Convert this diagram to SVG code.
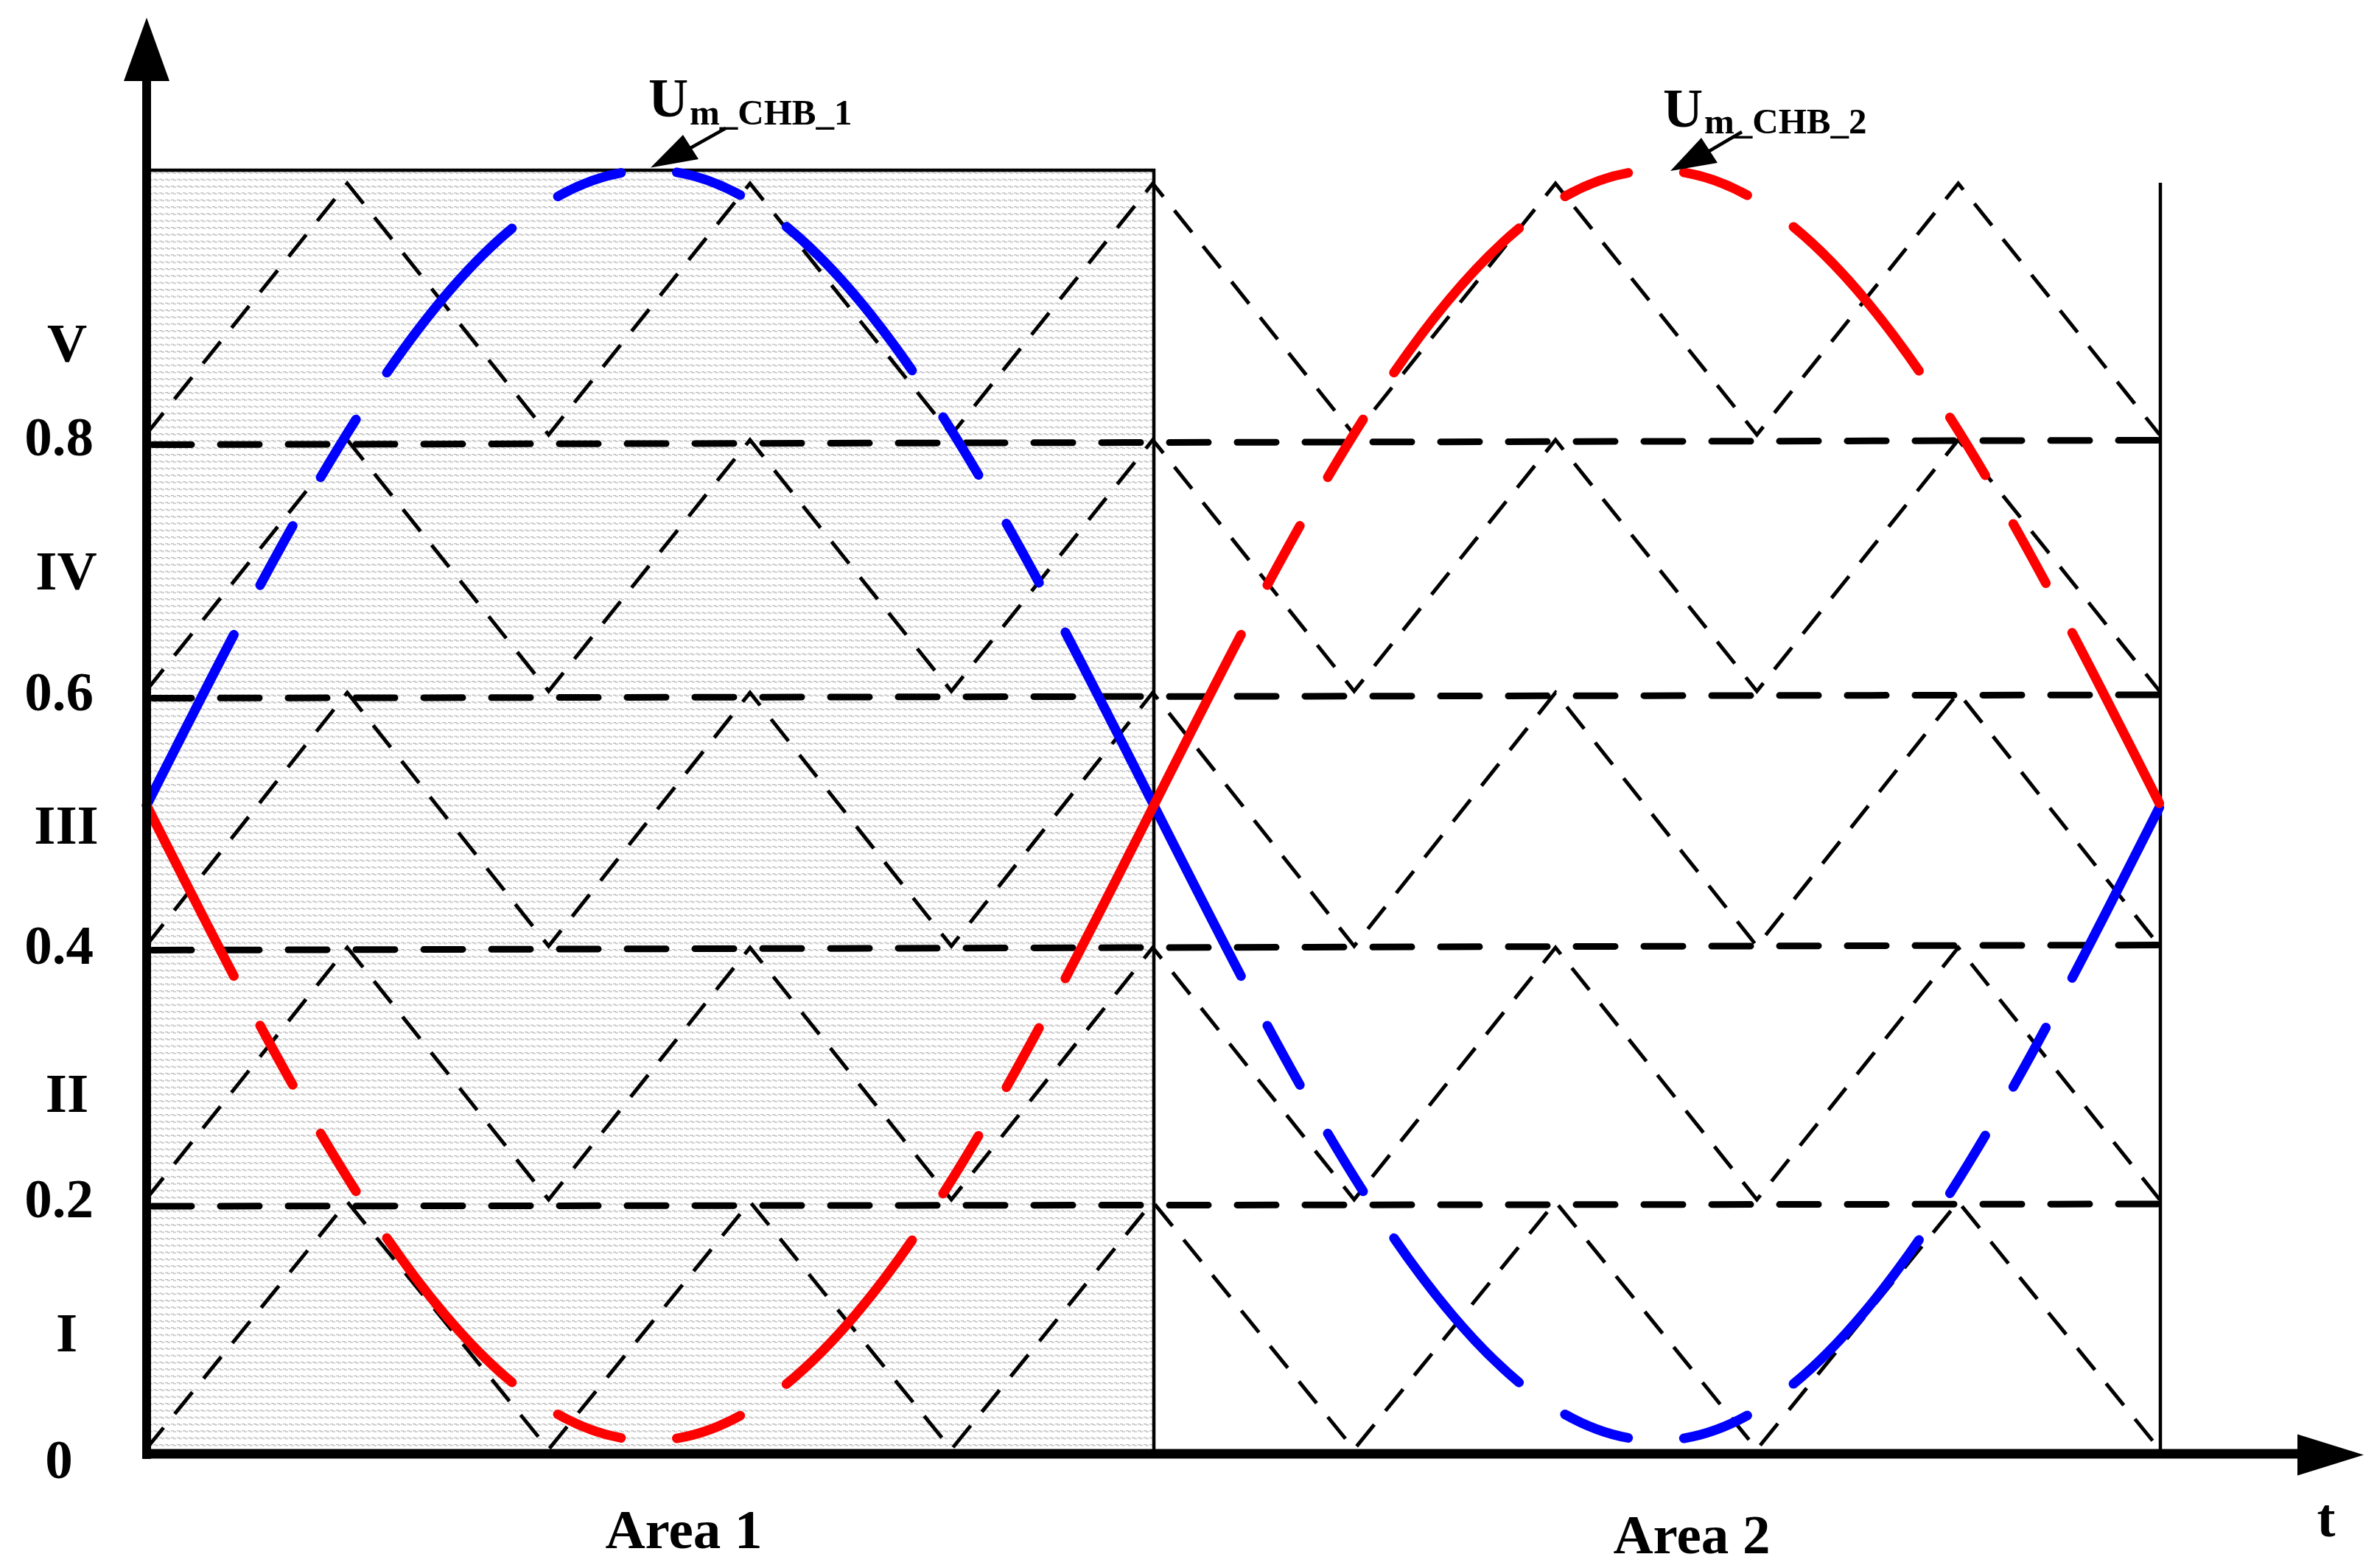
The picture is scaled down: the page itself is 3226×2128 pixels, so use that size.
<svg xmlns="http://www.w3.org/2000/svg" width="3226" height="2128" viewBox="0 0 3226 2128">
<style>
.lbl{font-family:"Liberation Serif","Times New Roman",serif;font-weight:bold;fill:#000}
.carrier{fill:none;stroke:#000;stroke-width:5;stroke-dasharray:38 24}
.level{fill:none;stroke:#000;stroke-width:9;stroke-linecap:round;stroke-dasharray:53 39}
.sine{fill:none;stroke-width:13;stroke-linecap:round;stroke-dasharray:260 76 92 76 92 76}
.border{fill:none;stroke:#000;stroke-width:4.5}
</style>
<defs>
<pattern id="dots" patternUnits="userSpaceOnUse" width="8" height="9.333">
<rect x="0" y="0" width="8" height="9.333" fill="#ffffff"/>
<rect x="0" y="0" width="4" height="1.2" fill="#b4b4b4"/>
<rect x="3" y="1.2" width="4" height="1.2" fill="#b4b4b4"/>
</pattern>
</defs>
<rect width="3226" height="2128" fill="#ffffff"/>
<g id="area1-fill"><rect x="199" y="231" width="1367" height="1742" fill="url(#dots)"/></g>
<g id="carriers">
<polyline class="carrier" points="198,590 471.3,249 744.6,590 1017.9,249 1291.2,590 1564.5,249 1837.8,590 2111.1,249 2384.4,590 2657.7,249 2931,590"/>
<polyline class="carrier" points="198,938 471.3,597 744.6,938 1017.9,597 1291.2,938 1564.5,597 1837.8,938 2111.1,597 2384.4,938 2657.7,597 2931,938"/>
<polyline class="carrier" points="198,1284 471.3,940 744.6,1284 1017.9,940 1291.2,1284 1564.5,940 1837.8,1284 2111.1,940 2384.4,1284 2657.7,940 2931,1284"/>
<polyline class="carrier" points="198,1628 471.3,1286 744.6,1628 1017.9,1286 1291.2,1628 1564.5,1286 1837.8,1628 2111.1,1286 2384.4,1628 2657.7,1286 2931,1628"/>
<polyline class="carrier" points="198,1967 471.3,1631 744.6,1967 1017.9,1631 1291.2,1967 1564.5,1631 1837.8,1967 2111.1,1631 2384.4,1967 2657.7,1631 2931,1967"/>
</g>
<g id="levels">
<line class="level" x1="207" y1="603.5" x2="2928" y2="597.5"/>
<line class="level" x1="207" y1="947.5" x2="2928" y2="943"/>
<line class="level" x1="207" y1="1289.5" x2="2928" y2="1282.5"/>
<line class="level" x1="207" y1="1637" x2="2928" y2="1634"/>
</g>
<g id="borders">
<line class="border" x1="199" y1="231" x2="1568" y2="231"/>
<line class="border" x1="1566" y1="229" x2="1566" y2="1973"/>
<line class="border" x1="2932" y1="248" x2="2932" y2="1973"/>
</g>
<g id="sines">
<path id="u1-area1" class="sine" stroke="#0000ff" d="M199,1093 C421.9,651.4 635.1,231 882.5,231 C1129.9,231 1343.1,651.4 1566,1093"/>
<path id="u1-area2" class="sine" stroke="#0000ff" d="M1566,1093 C1788.7,1534.6 2001.8,1955 2249,1955 C2496.2,1955 2709.3,1534.6 2932,1093"/>
<path id="u2-area1" class="sine" stroke="#ff0000" d="M199,1093 C421.9,1534.6 635.1,1955 882.5,1955 C1129.9,1955 1343.1,1534.6 1566,1093"/>
<path id="u2-area2" class="sine" stroke="#ff0000" d="M1566,1093 C1788.7,651.4 2001.8,231 2249,231 C2496.2,231 2709.3,651.4 2932,1093"/>
</g>
<g id="axes">
<line x1="199" y1="100" x2="199" y2="1980" stroke="#000" stroke-width="12"/>
<polygon points="199,24 168,110 230,110" fill="#000"/>
<line x1="193" y1="1973" x2="3125" y2="1973" stroke="#000" stroke-width="13"/>
<polygon points="3208,1974.5 3118,1946.5 3118,2002.5" fill="#000"/>
</g>
<g id="y-labels" class="lbl" font-size="75" text-anchor="middle">
<text x="91" y="491">V</text>
<text x="80" y="618">0.8</text>
<text x="90" y="800">IV</text>
<text x="80" y="964">0.6</text>
<text x="90" y="1145">III</text>
<text x="80" y="1308">0.4</text>
<text x="91" y="1509">II</text>
<text x="80" y="1652">0.2</text>
<text x="90.5" y="1834">I</text>
<text x="80" y="2006">0</text>
</g>
<g id="x-labels" class="lbl" font-size="75" text-anchor="middle">
<text x="928" y="2101">Area 1</text>
<text x="2296" y="2108">Area 2</text>
<text x="3157" y="2085">t</text>
</g>
<g id="label-u1">
<text class="lbl" x="880" y="158" font-size="75">U</text>
<text class="lbl" x="936" y="169" font-size="49">m_CHB_1</text>
<line x1="985" y1="174" x2="935" y2="202" stroke="#000" stroke-width="4.5"/>
<polygon points="883,227.5 927,183 948,216" fill="#000"/>
</g>
<g id="label-u2">
<text class="lbl" x="2257" y="172" font-size="75">U</text>
<text class="lbl" x="2313" y="181" font-size="49">m_CHB_2</text>
<line x1="2364" y1="179" x2="2318" y2="206" stroke="#000" stroke-width="4.5"/>
<polygon points="2267,232 2309,187 2331,221" fill="#000"/>
</g>
</svg>
